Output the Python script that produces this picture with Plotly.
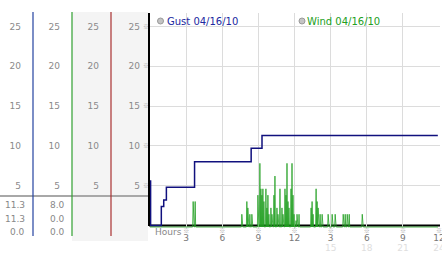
import plotly.graph_objects as go

# ---------------- data ----------------
gust_label = "Gust 04/16/10"
wind_label = "Wind 04/16/10"

# gust: step series (hours since midnight, mph)
gust_hours = [0.0, 0.05, 0.94, 1.14, 1.36, 3.70, 8.40, 9.30, 23.9]
gust_mph = [5.6, 0.0, 2.4, 3.2, 4.8, 8.0, 9.7, 11.3, 11.3]

# wind: 2.5-minute readings; only the non-zero readings are listed (minutes since midnight)
wind_sample_min = 2.5
wind_last_min = 1435
wind_read_min = [215, 225,
                 457.5, 482.5, 487.5, 497.5, 507.5,
                 537.5, 547.5, 552.5, 557.5, 562.5, 567.5, 577.5, 582.5, 587.5, 592.5,
                 602.5, 607.5, 617.5, 622.5, 632.5, 637.5, 647.5, 657.5, 662.5, 672.5,
                 677.5, 682.5, 687.5, 692.5, 702.5, 707.5, 712.5, 717.5, 727.5, 732.5, 742.5,
                 802.5, 807.5, 812.5, 827.5, 832.5, 837.5, 847.5, 857.5,
                 887.5, 907.5, 922.5,
                 962.5, 972.5, 982.5, 992.5,
                 1057.5]
wind_read_mph = [3.2, 3.2,
                 1.6, 3.2, 2.4, 1.6, 1.6,
                 4.0, 8.0, 4.8, 4.0, 4.8, 3.2, 4.8, 2.4, 4.0, 1.6,
                 2.4, 1.6, 4.0, 6.4, 2.4, 1.6, 4.8, 2.4, 1.6, 4.8,
                 4.0, 8.0, 3.2, 2.4, 4.8, 8.0, 4.0, 1.6, 0.8, 1.6, 1.6,
                 2.4, 3.2, 1.6, 4.8, 3.2, 2.4, 1.6, 1.6,
                 1.6, 1.6, 1.6,
                 1.6, 1.6, 1.6, 1.6,
                 1.6]

y_ticks = [5, 10, 15, 20, 25]
x_ticks = [3, 6, 9, 12, 15, 18, 21, 24]
x_tick_12h = ["3", "6", "9", "12", "3", "6", "9", "12"]
x_tick_24h = ["", "", "", "", "15", "18", "21", "24"]

# ---------------- build series ----------------
readings = dict(zip(wind_read_min, wind_read_mph))
n = int(wind_last_min / wind_sample_min) + 1
wind_t = [i * wind_sample_min for i in range(n)]
wind_hours = [t / 60 for t in wind_t]
wind_mph = [readings.get(t, 0.0) for t in wind_t]

gust_stats = [max(gust_mph), gust_mph[-1], min(gust_mph)]
wind_stats = [max(wind_mph), wind_mph[-1], min(wind_mph)]

# ---------------- layout helpers ----------------
W, H = 442, 253
ML, MR, MT, MB = 0, 2, 13, 25
PW, PH = W - ML - MR, H - MT - MB
def px(x):
    return (x - ML) / PW
def py(y):
    return (H - MB - y) / PH

FONT = "DejaVu Sans"
MARKFONT = "Noto Sans CJK JP"
TICKC = "#8a8a8a"
Y_RANGE = [-0.314, 26.70]
px_per_unit = PH / (Y_RANGE[1] - Y_RANGE[0])
shift = 1.5 / px_per_unit
Y2_RANGE = [Y_RANGE[0] + shift, Y_RANGE[1] + shift]

fig = go.Figure()
fig.add_trace(go.Scatter(x=gust_hours, y=gust_mph, mode="lines", line_shape="hv",
                         line=dict(color="#10107e", width=1.5), name=gust_label,
                         xaxis="x", yaxis="y"))
fig.add_trace(go.Scatter(x=wind_hours, y=wind_mph, mode="lines",
                         line=dict(color="#22a022", width=0.8), name=wind_label,
                         xaxis="x", yaxis="y2"))
# empty traces so that the decorative axes are drawn
for ya in ["y3", "y4", "y5", "y6"]:
    fig.add_trace(go.Scatter(x=[None], y=[None], xaxis="x", yaxis=ya, showlegend=False, hoverinfo="skip"))
for xa in ["x2", "x3"]:
    fig.add_trace(go.Scatter(x=[None], y=[None], xaxis=xa, yaxis="y", showlegend=False, hoverinfo="skip"))

mark = "※"

axis_common = dict(range=Y_RANGE, tickvals=y_ticks, showgrid=False, zeroline=False,
                   showline=False, ticks="", fixedrange=True, automargin=False)
xov = dict(overlaying="x", matches="x", anchor="y", side="bottom", tickvals=x_ticks,
           showgrid=False, zeroline=False, showline=False, automargin=False,
           ticklabeloverflow="allow", ticks="")

fig.update_layout(
    template="none",
    width=W, height=H, margin=dict(l=ML, r=MR, t=MT, b=MB, pad=0),
    paper_bgcolor="white", plot_bgcolor="white", showlegend=False,
    font=dict(family=FONT, size=9, color=TICKC),
    xaxis=dict(domain=[px(150), 1], range=[0, 24.08], tickvals=x_ticks, ticktext=x_tick_12h,
               showgrid=True, gridcolor="#dcdcdc", gridwidth=1, zeroline=False,
               showline=False, ticks="", anchor="y", ticklabelstandoff=3, automargin=False,
               ticklabeloverflow="allow", tickfont=dict(size=9, color="#777777")),
    xaxis2=dict(ticktext=[mark] * len(x_ticks), ticklabelstandoff=-2,
                tickfont=dict(family=MARKFONT, size=6, color="#aaaaaa"), **xov),
    xaxis3=dict(ticktext=x_tick_24h, ticklabelstandoff=13,
                tickfont=dict(size=9, color="#dedede"), **xov),
    yaxis=dict(domain=[0, 1], anchor="x", gridcolor="#dcdcdc", showgrid=True,
               **{k: v for k, v in axis_common.items() if k != "showgrid"},
               ticklabelstandoff=9, tickfont=dict(size=9, color=TICKC)),
    yaxis2=dict(overlaying="y", range=Y2_RANGE, visible=False, anchor="x", automargin=False),
    yaxis3=dict(overlaying="y", anchor="x", side="left", ticktext=[mark] * len(y_ticks),
                tickfont=dict(family=MARKFONT, size=6, color="#aaaaaa"), ticklabelstandoff=0,
                **axis_common),
    yaxis4=dict(overlaying="y", anchor="free", position=px(33), side="left",
                ticklabelstandoff=12, tickfont=dict(size=9, color=TICKC), **axis_common),
    yaxis5=dict(overlaying="y", anchor="free", position=px(72), side="left",
                ticklabelstandoff=12, tickfont=dict(size=9, color=TICKC), **axis_common),
    yaxis6=dict(overlaying="y", anchor="free", position=px(111), side="left",
                ticklabelstandoff=12, tickfont=dict(size=9, color=TICKC), **axis_common),
)

shapes = []
# shaded columns
for x0, x1 in [(72, 111), (111, 148)]:
    shapes.append(dict(type="rect", xref="paper", yref="paper", x0=px(x0), x1=px(x1),
                       y0=py(241), y1=py(12), fillcolor="#f4f4f4", line=dict(width=0), layer="below"))
# separator line
shapes.append(dict(type="line", xref="paper", yref="paper", x0=px(0), x1=px(149),
                   y0=py(196), y1=py(196), line=dict(color="#a8a8a8", width=2)))
# column axis lines
for x, c in [(33, "#2442a0"), (72, "#2f9f2f"), (111, "#a83030")]:
    shapes.append(dict(type="line", xref="paper", yref="paper", x0=px(x), x1=px(x),
                       y0=py(236), y1=py(12), line=dict(color=c, width=1.2)))
# main axes
shapes.append(dict(type="line", xref="paper", yref="paper", x0=px(149), x1=px(149),
                   y0=py(226), y1=py(13), line=dict(color="black", width=2)))
shapes.append(dict(type="line", xref="paper", yref="y", x0=px(149), x1=1,
                   y0=0, y1=0, line=dict(color="black", width=2), layer="between"))
# legend bullets
for cx in [160.5, 302]:
    shapes.append(dict(type="circle", xref="paper", yref="paper", x0=px(cx - 3), x1=px(cx + 3),
                       y0=py(24), y1=py(18), fillcolor="#c4c4c4", line=dict(color="#9a9a9a", width=1)))
fig.update_layout(shapes=shapes)

ann = []
ann.append(dict(text=gust_label, x=px(165), y=py(21), xref="paper", yref="paper",
                xanchor="left", yanchor="middle", showarrow=False,
                font=dict(family=FONT, size=10, color="#2028a0")))
ann.append(dict(text=wind_label, x=px(305), y=py(21), xref="paper", yref="paper",
                xanchor="left", yanchor="middle", showarrow=False,
                font=dict(family=FONT, size=10, color="#22a022")))
ann.append(dict(text="Hours", x=px(153), y=py(232), xref="paper", yref="paper",
                xanchor="left", yanchor="middle", showarrow=False,
                font=dict(family=FONT, size=9, color="#888888")))
for xr, stats in [(27, gust_stats), (67, wind_stats)]:
    for yy, v in zip([204.5, 218.5, 232], stats):
        ann.append(dict(text=f"{v:.1f}", x=px(xr), y=py(yy), xref="paper", yref="paper",
                        xanchor="right", yanchor="middle", showarrow=False,
                        font=dict(family=FONT, size=9, color="#888888")))
fig.update_layout(annotations=ann)

fig.write_html("out.html")
